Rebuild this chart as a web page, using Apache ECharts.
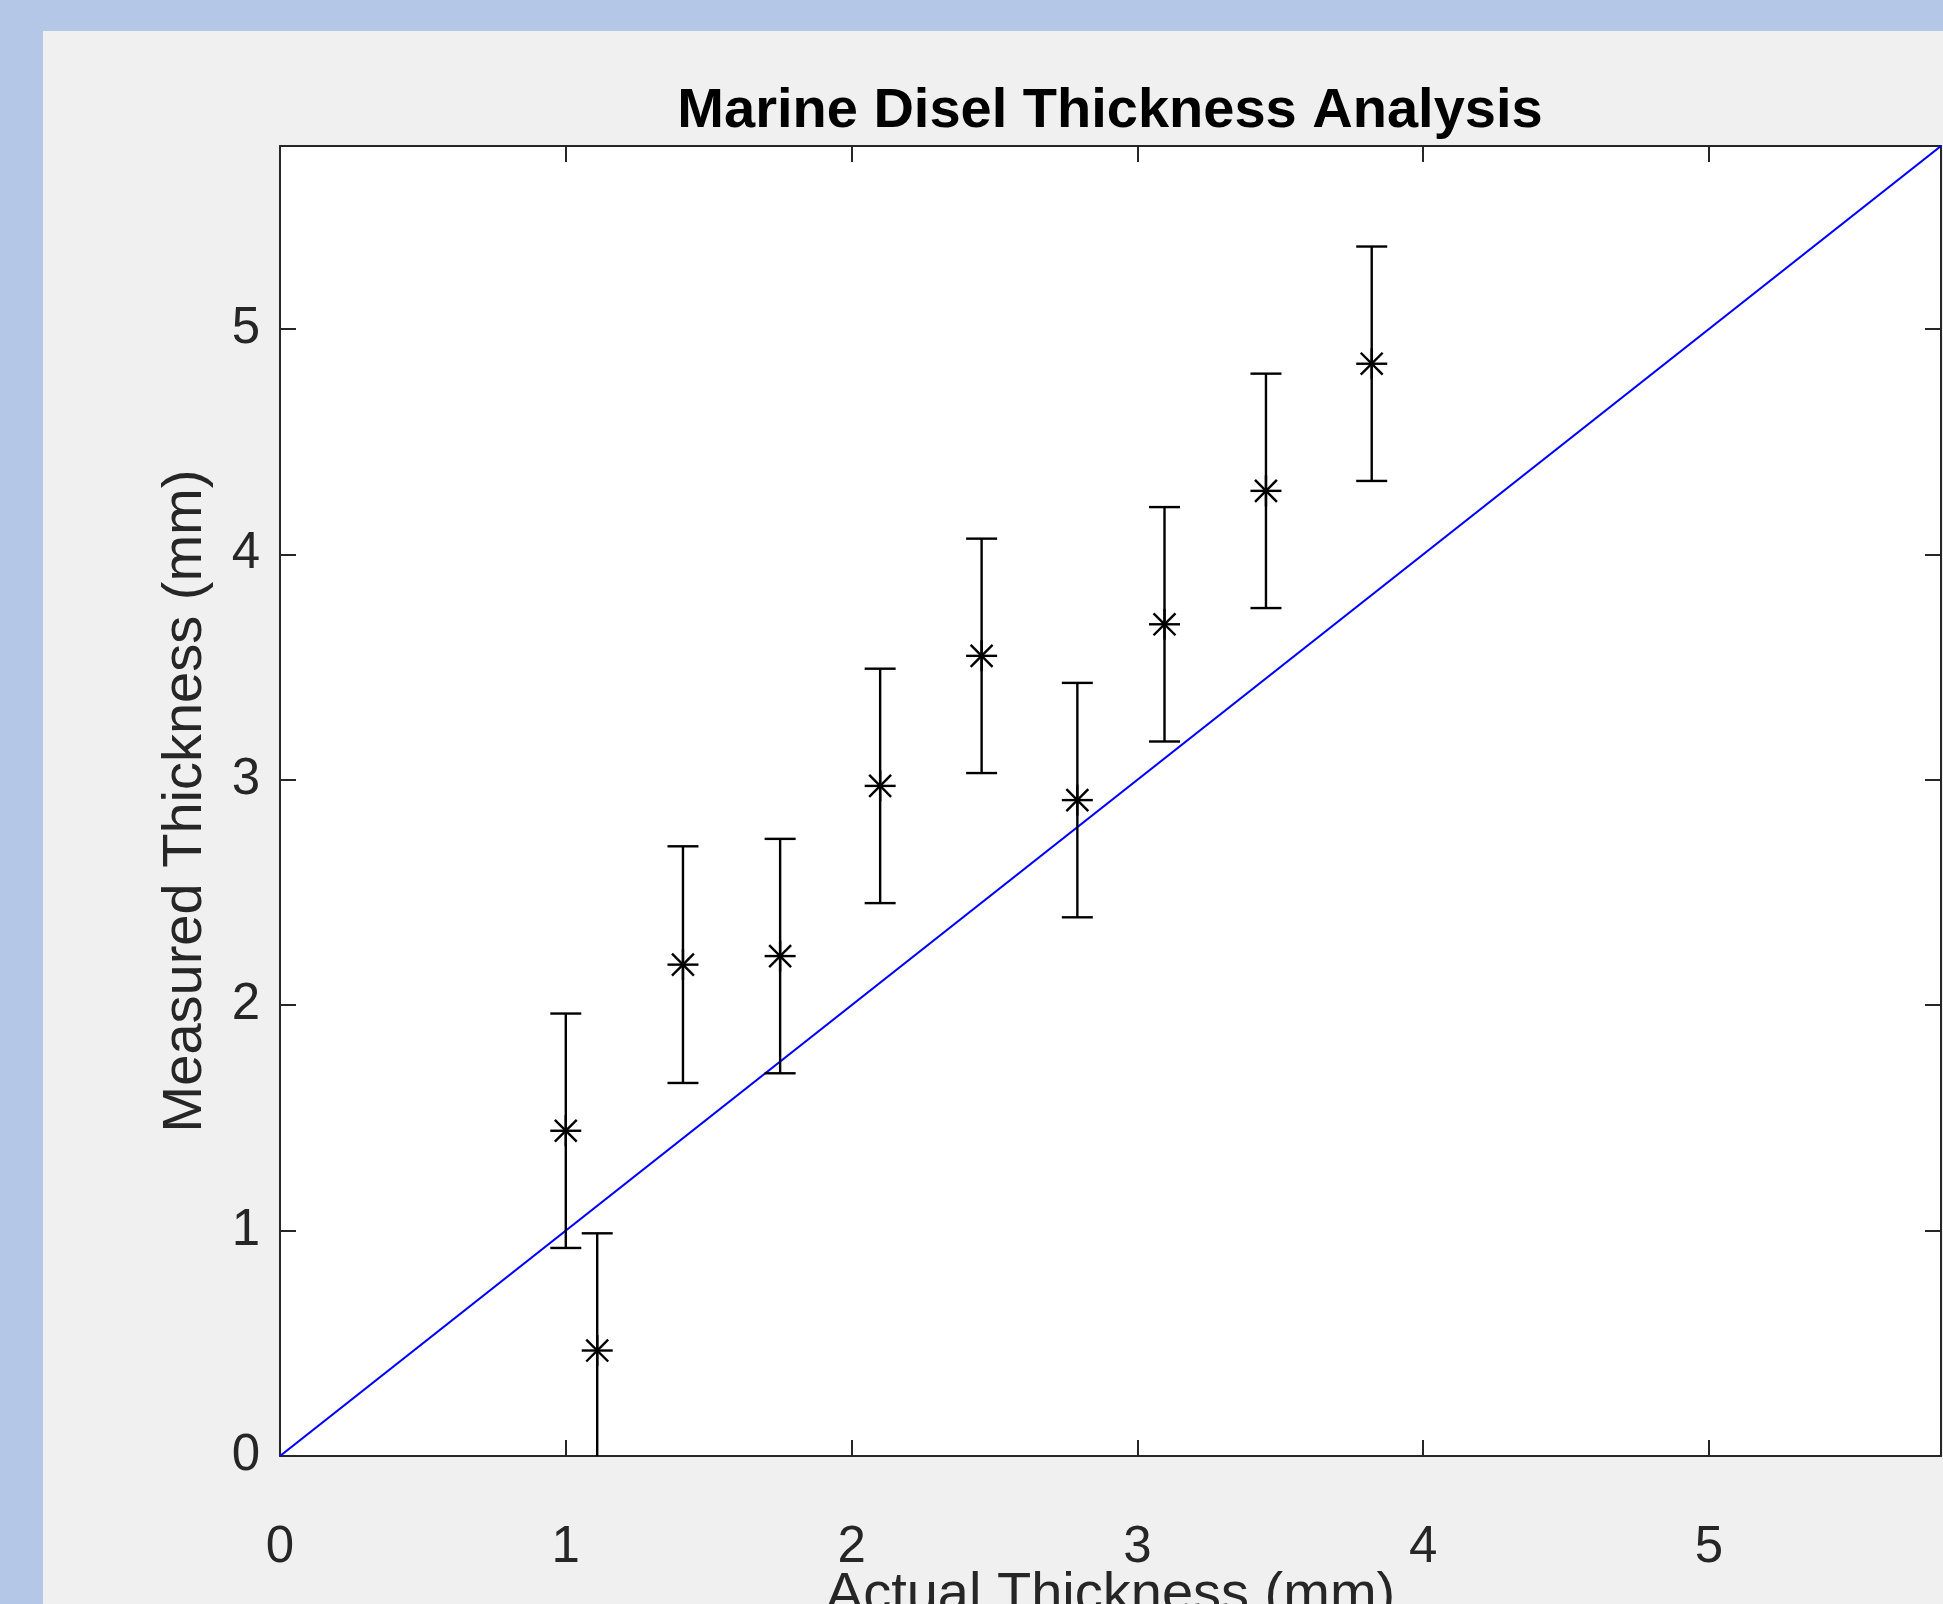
<!DOCTYPE html>
<html>
<head>
<meta charset="utf-8">
<script src="https://cdn.jsdelivr.net/npm/echarts@6/dist/echarts.min.js"></script>
<style>
  html, body { margin: 0; padding: 0; background: #b4c7e7; overflow: hidden; }
  #chart { position: absolute; left: 43px; top: 31px; width: 1900px; height: 1573px; background: #f0f0f0; }
</style>
</head>
<body>
<div id="chart"></div>
<script>
// measured points with +/- error
var actual = [1.00, 1.11, 1.41, 1.75, 2.10, 2.455, 2.79, 3.095, 3.45, 3.82]
var measured = [1.443, 0.468, 2.18, 2.218, 2.973, 3.55, 2.91, 3.69, 4.282, 4.846]
var errors = [0.52, 0.52, 0.525, 0.52, 0.52, 0.52, 0.52, 0.52, 0.52, 0.52]
// reference line y = x across the axes
var refLine = [0, 5.812]
var axisMax = 5.812

var font = '"Liberation Sans", Arial, Helvetica, sans-serif'
var axisColor = '#262626'

var points = actual.map(function (x, i) { return [x, measured[i], errors[i]] })

function renderErrorBar(params, api) {
  var x = api.value(0)
  var y = api.value(1)
  var e = api.value(2)
  var top = api.coord([x, y + e])
  var bot = api.coord([x, y - e])
  var mid = api.coord([x, y])
  var cap = 15.5 // half cap width
  var r = 15.5 // asterisk radius
  var d = r * Math.SQRT1_2
  var segs = [
    [top[0], top[1], bot[0], bot[1]],
    [top[0] - cap, top[1], top[0] + cap, top[1]],
    [bot[0] - cap, bot[1], bot[0] + cap, bot[1]],
    [mid[0] - r, mid[1], mid[0] + r, mid[1]],
    [mid[0], mid[1] - r, mid[0], mid[1] + r],
    [mid[0] - d, mid[1] - d, mid[0] + d, mid[1] + d],
    [mid[0] - d, mid[1] + d, mid[0] + d, mid[1] - d]
  ]
  return {
    type: 'group',
    children: segs.map(function (s) {
      return {
        type: 'line',
        shape: { x1: s[0], y1: s[1], x2: s[2], y2: s[3] },
        style: { stroke: '#000', lineWidth: 2.4 }
      }
    })
  }
}

function axisBase(pos, showLabel, name) {
  return {
    type: 'value',
    position: pos,
    min: 0,
    max: axisMax,
    interval: 1,
    name: name || '',
    nameLocation: 'middle',
    nameMoveOverlap: false,
    nameTextStyle: { fontFamily: font, fontSize: 56, color: axisColor },
    axisLine: { show: true, onZero: false, lineStyle: { color: axisColor, width: 2 } },
    axisTick: { show: true, inside: true, length: 16, lineStyle: { color: axisColor, width: 2 } },
    axisLabel: {
      show: showLabel,
      showMaxLabel: false,
      fontFamily: font,
      fontSize: 51,
      color: axisColor,
      formatter: function (v) { return Number.isInteger(v) ? String(v) : '' }
    },
    splitLine: { show: false }
  }
}

var xBottom = axisBase('bottom', true, 'Actual Thickness (mm)')
xBottom.nameGap = 112
xBottom.axisLabel.margin = 66
var xTop = axisBase('top', false)
var yLeft = axisBase('left', true, 'Measured Thickness (mm)')
yLeft.nameGap = 66
yLeft.axisLabel.margin = 20
var yRight = axisBase('right', false)

var chart = echarts.init(document.getElementById('chart'))
chart.setOption({
  animation: false,
  grid: {
    left: 237, top: 115, width: 1661, height: 1310,
    containLabel: false,
    outerBoundsMode: 'none',
    show: true, backgroundColor: '#fff', borderWidth: 0
  },
  graphic: [{
    type: 'text',
    x: 1067,
    y: 81,
    style: {
      text: 'Marine Disel Thickness Analysis',
      fontFamily: font,
      fontWeight: 'bold',
      fontSize: 56,
      fill: '#000',
      align: 'center',
      verticalAlign: 'middle'
    }
  }],
  xAxis: [xBottom, xTop],
  yAxis: [yLeft, yRight],
  series: [
    {
      type: 'line',
      data: [[refLine[0], refLine[0]], [refLine[1], refLine[1]]],
      showSymbol: false,
      lineStyle: { color: '#0000ff', width: 2.2 },
      z: 2
    },
    {
      type: 'custom',
      data: points,
      clip: true,
      renderItem: renderErrorBar,
      encode: { x: 0, y: 1 },
      z: 3
    }
  ]
})
</script>
</body>
</html>
